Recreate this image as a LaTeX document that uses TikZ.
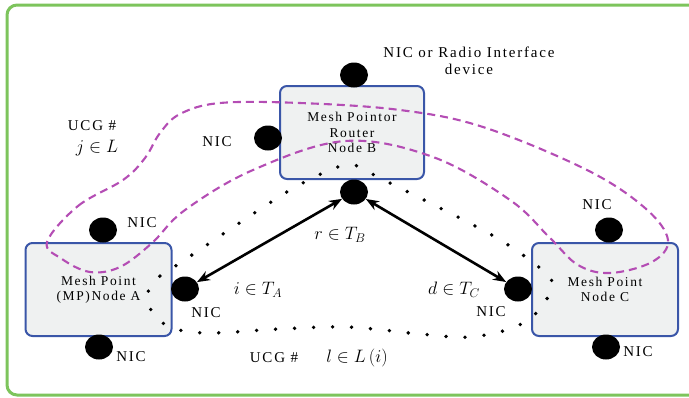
\documentclass[tikz,border=0pt]{standalone}
\usepackage{fix-cm}
\usepackage{fontspec}
\setmainfont{Liberation Serif}[LetterSpace=12]
\usetikzlibrary{arrows.meta,shapes.geometric}
\definecolor{meshblue}{HTML}{3A56A8}
\definecolor{meshgray}{HTML}{EFF1F1}
\definecolor{ucgpink}{HTML}{B44DB4}
\definecolor{framegreen}{HTML}{7DC45C}
\tikzset{
  nic/.style={ellipse, fill=black, minimum width=28pt, minimum height=25pt, inner sep=0pt},
  meshbox/.style={draw=meshblue, fill=meshgray, line width=2pt, rounded corners=7pt,
    minimum width=146pt, minimum height=93pt, align=center,
    font=\fontsize{13.5}{15.5}\selectfont},
  lbl/.style={inner sep=0pt, align=center, font=\fontsize{15}{17}\selectfont},
  mlbl/.style={inner sep=0pt, font=\fontsize{18}{20}\selectfont},
  ucg/.style={draw=ucgpink, line width=2.1pt, dash pattern=on 8pt off 5pt},
  route/.style={line width=3.8pt, line cap=round, dash pattern=on 0pt off 19pt},
  link/.style={line width=2.6pt, {Stealth[length=13pt,width=10pt]}-{Stealth[length=13pt,width=10pt]}},
}
\begin{document}
\begin{tikzpicture}[x=1pt, y=-1pt]
      \useasboundingbox (0,0) rectangle (689,397);
      \clip (0,0) rectangle (689,397);
      % frame
      \draw[framegreen, line width=3pt, rounded corners=10pt] (7,5) rectangle (720,395);
      % mesh points
      \draw
        (98.5,289.5) node[meshbox] (A){Mesh Point\\(MP)Node A}
        (352,132.5) node[meshbox, minimum width=144pt] (B){Mesh Pointor\\Router\\Node B}
        (605,289.5) node[meshbox] (C){Mesh Point\\Node C};
      % UCG j
      \draw[ucg] plot[smooth cycle, tension=0.6] coordinates {
        (47,242) (78,206) (123,180) (145,158) (160,133) (180,114) (220,103)
        (300,103) (400,110) (483,127) (587,170) (645,208) (668,240) (652,262)
        (610,273) (578,265) (550,238) (510,200) (433,157) (345,141) (253,170)
        (185,210) (152,243) (120,267) (90,272) (62,259)};
      % UCG l
      \draw[route] plot[smooth cycle, tension=0.55] coordinates {
        (148,292) (160,276) (180,263) (282,195) (330,170) (353,165) (378,177)
        (490,234) (540,268) (552,283) (541,308) (515,327) (470,337) (420,334)
        (348,327) (280,329) (210,333) (172,328) (152,312)};
      % radio interfaces
      \draw
        (103,230) node[nic] (A1){}
        (185,289) node[nic] (A2){}
        (99,347) node[nic] (A3){}
        (354,75) node[nic] (B1){}
        (268,138) node[nic] (B2){}
        (354,192) node[nic] (B3){}
        (609,230) node[nic] (C1){}
        (518,289) node[nic] (C2){}
        (606,347) node[nic] (C3){};
      \begin{scope}[link]
        \draw (B3) to (A2);
        \draw (B3) to (C2);
      \end{scope}
      % labels
      \draw
        (469,61) node[lbl] (dev){NIC or Radio Interface\\device}
        (217,142) node[lbl] (nB2){NIC}
        (142,223) node[lbl] (nA1){NIC}
        (206,313) node[lbl] (nA2){NIC}
        (131,357) node[lbl] (nA3){NIC}
        (597,205) node[lbl] (nC1){NIC}
        (491,312) node[lbl] (nC2){NIC}
        (638,352) node[lbl] (nC3){NIC}
        (92,126) node[lbl] (ucgj){UCG \#}
        (97,148) node[mlbl] (jL){$j \in L$}
        (340,235) node[mlbl] (rT){$r \in T_B$}
        (258,290) node[mlbl] (iT){$i \in T_A$}
        (454,290) node[mlbl] (dT){$d \in T_C$}
        (274,358) node[lbl] (ucgl){UCG \#}
        (357,358) node[mlbl] (lL){$l \in L\left(i\right)$};
    \end{tikzpicture}
\end{document}
